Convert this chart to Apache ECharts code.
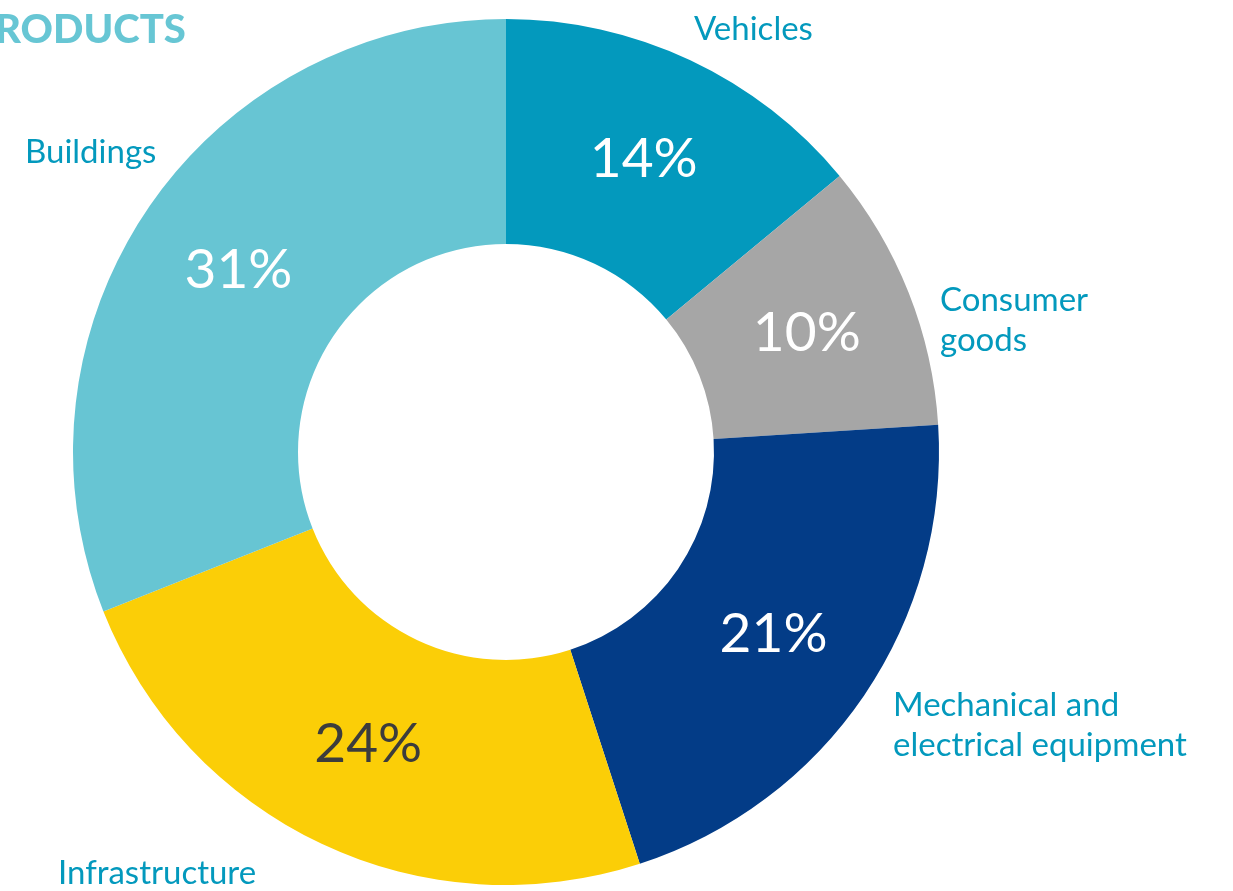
<!doctype html>
<html>
<head>
<meta charset="utf-8">
<title>Products</title>
<style>
	html, body { margin: 0; padding: 0; background: #fff; }
	#main { width: 1233px; height: 891px; }
</style>
<script src="https://cdn.jsdelivr.net/npm/echarts@6/dist/echarts.min.js"></script>
</head>
<body>
<div id="main"></div>
<script>
	// data
	var categories = ['Vehicles', 'Consumer\ngoods', 'Mechanical and\nelectrical equipment', 'Infrastructure', 'Buildings'];
	var shares = [14, 10, 21, 24, 31];
	var colors = ['#0399bd', '#a6a6a6', '#033c87', '#fbce07', '#67c5d3'];
	var pctColors = ['#ffffff', '#ffffff', '#ffffff', '#3c3c3c', '#ffffff'];

	// where the name labels sit (left edge, vertical middle)
	var namePos = [[694, 29], [940, 320], [893, 725], [58, 873], [25, 152]];

	var font = 'Lato, "Open Sans", sans-serif';

	var pieData = [];
	for (var i = 0; i < categories.length; i++) {
		pieData.push({
			name: categories[i],
			value: shares[i],
			itemStyle: { color: colors[i] },
			label: { color: pctColors[i] }
		});
	}
	var nameData = [];
	for (var j = 0; j < categories.length; j++) {
		nameData.push({ name: categories[j], value: shares[j] });
	}

	var myChart = echarts.init(document.getElementById('main'));
	var option = {
		animation: false,
		title: {
			text: 'PRODUCTS',
			left: -35,
			top: 5,
			textStyle: { fontFamily: font, fontSize: 40, fontWeight: 900, color: '#67c6d4' }
		},
		series: [
			{
				type: 'pie',
				center: [506, 452],
				radius: [208, 433],
				startAngle: 90,
				clockwise: true,
				silent: true,
				data: pieData,
				label: {
					show: true,
					position: 'inside',
					formatter: '{c}%',
					fontFamily: font,
					fontSize: 55,
					fontWeight: 'normal'
				},
				labelLine: { show: false }
			},
			{
				// name labels only
				type: 'pie',
				center: [506, 452],
				radius: [208, 433],
				startAngle: 90,
				clockwise: true,
				silent: true,
				z: 1,
				itemStyle: { color: 'rgba(0,0,0,0)' },
				data: nameData,
				label: {
					show: true,
					position: 'outside',
					formatter: '{b}',
					overflow: 'none',
					fontFamily: font,
					fontSize: 33,
					lineHeight: 40,
					color: '#0399bd'
				},
				labelLine: { show: false },
				labelLayout: function (params) {
					var p = namePos[params.dataIndex];
					return { x: p[0], y: p[1], align: 'left', verticalAlign: 'middle', hideOverlap: false };
				}
			}
		]
	};
	myChart.setOption(option);
</script>
</body>
</html>
